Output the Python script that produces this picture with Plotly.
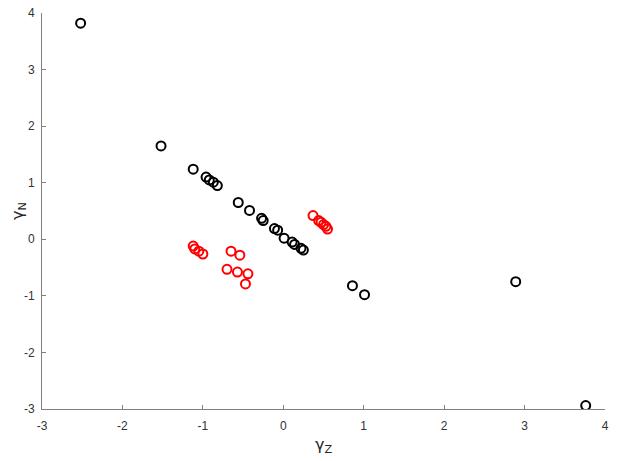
import plotly.graph_objects as go

# black group
black_z = [-2.52, -1.52, -1.12, -0.96, -0.92, -0.87, -0.82, -0.56, -0.42, -0.27, -0.25,
           -0.11, -0.07, 0.01, 0.11, 0.14, 0.22, 0.25, 0.86, 1.01, 2.89, 3.76]
black_n = [3.82, 1.65, 1.24, 1.10, 1.05, 1.01, 0.95, 0.65, 0.51, 0.37, 0.33,
           0.19, 0.16, 0.02, -0.05, -0.09, -0.16, -0.19, -0.82, -0.98, -0.75, -2.94]

# red group
red_z = [-1.12, -1.10, -1.05, -1.00, -0.65, -0.54, -0.70, -0.57, -0.44, -0.47,
         0.37, 0.44, 0.47, 0.50, 0.53, 0.55]
red_n = [-0.12, -0.17, -0.21, -0.26, -0.21, -0.28, -0.53, -0.58, -0.61, -0.79,
         0.42, 0.33, 0.30, 0.26, 0.23, 0.18]

ticks = [-3, -2, -1, 0, 1, 2, 3, 4]
tick_labels = ["-3", "-2", "-1", "0", "1", "2", "3", "4"]

fig = go.Figure()
fig.add_trace(go.Scatter(
    x=black_z, y=black_n, mode="markers",
    marker=dict(symbol="circle-open", size=9, color="black", line=dict(width=2)),
))
fig.add_trace(go.Scatter(
    x=red_z, y=red_n, mode="markers",
    marker=dict(symbol="circle-open", size=9, color="red", line=dict(width=2)),
))

axis_style = dict(
    showgrid=False, zeroline=False, showline=True, linecolor="#808080", linewidth=1,
    ticks="inside", ticklen=4, tickcolor="#808080",
    tickvals=ticks, ticktext=tick_labels, automargin=False,
    ticklabeloverflow="allow",
    tickfont=dict(size=12, color="#333333"),
)

# the page body adds 8px, so the margins are shifted to compensate
fig.update_layout(
    width=640, height=461,
    margin=dict(l=34, r=43, t=5, b=60),
    plot_bgcolor="white", paper_bgcolor="white",
    font=dict(family="Liberation Sans, Arial, sans-serif", color="#262626"),
    showlegend=False,
    xaxis=dict(range=[-3, 4], ticklabelstandoff=6,
               title=dict(text="γ<sub>Z</sub>", font=dict(size=16, family="DejaVu Sans"), standoff=6),
               **axis_style),
    yaxis=dict(range=[-3, 4], ticklabelstandoff=4,
               title=dict(text="γ<sub>N</sub>", font=dict(size=16, family="DejaVu Sans"), standoff=5),
               **axis_style),
)

fig.write_html("out.html")
